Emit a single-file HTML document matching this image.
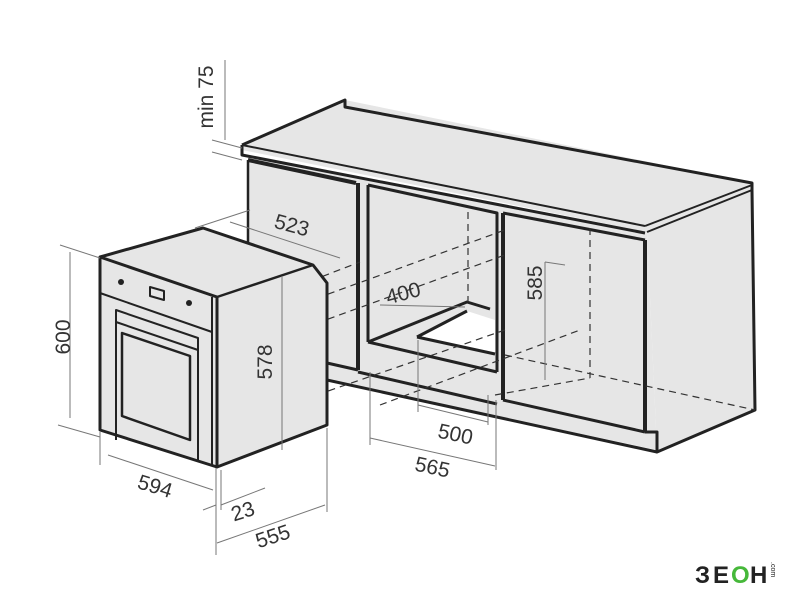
<!DOCTYPE html>
<html><head><meta charset="utf-8"><style>html,body{margin:0;padding:0;background:#fff}svg{display:block}</style></head>
<body>
<svg width="800" height="600" viewBox="0 0 800 600" xmlns="http://www.w3.org/2000/svg" font-family="Liberation Sans, sans-serif">
<g fill="#e6e6e6" stroke="none">
  <polygon points="242,145 345,100 752,183 752,190 647,232 242,150"/>
  <polygon points="248,155 647,232 657,450 327,380 327,290 248,250"/>
  <polygon points="647,232 752,190 755,410 657,450"/>
</g>
<polygon points="417,337 467,311 495,320 495,354" fill="#fff"/>
<g fill="none" stroke="#222" stroke-width="3" stroke-linejoin="round">
  <polyline points="242,145 345,100 345,107 752,183 752,190"/>
  <polyline points="242,145 242,155 645,233"/>
  <line x1="242" y1="145" x2="645" y2="226" stroke-width="2"/>
  <polyline points="645,226 752,185" stroke-width="2"/>
  <line x1="248" y1="160" x2="356" y2="183" stroke-width="4"/>
  <line x1="248" y1="160" x2="248" y2="248" stroke-width="2.5"/>
  <line x1="358" y1="183" x2="358" y2="370" stroke-width="4"/>
  <polyline points="368,185 497,213 497,372"/>
  <line x1="368" y1="185" x2="368" y2="342"/>
  <line x1="368" y1="342" x2="497" y2="372"/>
  <polyline points="368,342 467,302 490,309"/>
  <polyline points="417,337 467,311"/>
  <line x1="417" y1="337" x2="495" y2="354"/>
  <polyline points="503,213 645,240"/>
  <line x1="503" y1="213" x2="503" y2="400" stroke-width="4"/>
  <line x1="645" y1="240" x2="645" y2="432" stroke-width="4"/>
  <line x1="503" y1="400" x2="645" y2="432"/>
  <polyline points="752,190 755,410 657,452 657,432 645,432"/>
  <line x1="647" y1="232" x2="752" y2="190" stroke-width="2"/>
  <line x1="327" y1="363" x2="358" y2="370"/>
  <line x1="358" y1="372" x2="497" y2="404"/>
  <line x1="327" y1="380" x2="657" y2="452"/>
  <line x1="327" y1="363" x2="327" y2="380" stroke-width="2"/>
</g>
<g stroke="#333" stroke-width="1.2" stroke-dasharray="7,5" fill="none">
  <line x1="215" y1="360" x2="505" y2="255"/>
  <line x1="215" y1="335" x2="505" y2="230"/>
  <line x1="215" y1="430" x2="505" y2="330"/>
  <line x1="300" y1="285" x2="360" y2="262"/>
  <line x1="468" y1="212" x2="468" y2="302"/>
  <line x1="590" y1="228" x2="590" y2="378"/>
  <line x1="380" y1="405" x2="580" y2="330"/>
  <line x1="505" y1="355" x2="755" y2="410"/>
  <line x1="495" y1="395" x2="590" y2="378"/>
</g>
<g stroke="#222" stroke-width="3" stroke-linejoin="round">
  <polygon points="100,257 203,228 313,265 327,283 327,425 217,467 100,430" fill="#e6e6e6"/>
  <polyline points="100,257 217,297 217,467" fill="none"/>
  <polyline points="217,297 313,265" fill="none" stroke-width="2.5"/>
  <line x1="212" y1="297" x2="212" y2="466" stroke-width="2"/>
  <line x1="100" y1="293" x2="212" y2="332" stroke-width="2"/>
  <polygon points="116,310 198,338 198,350 116,322" fill="none" stroke-width="2"/>
  <polygon points="122,333 190,356 190,440 122,416" fill="none" stroke-width="2.5"/>
  <line x1="116" y1="322" x2="116" y2="440" stroke-width="2"/>
  <line x1="198" y1="350" x2="198" y2="462" stroke-width="2"/>
  <circle cx="121" cy="282" r="3" fill="#222" stroke="none"/>
  <circle cx="189" cy="303" r="3" fill="#222" stroke="none"/>
  <polygon points="150,287 164,291 164,300 150,296" fill="none" stroke-width="2"/>
</g>
<g stroke="#777" stroke-width="1" fill="none">
  <line x1="70" y1="252" x2="70" y2="418"/>
  <line x1="60" y1="245" x2="100" y2="258"/>
  <line x1="58" y1="425" x2="100" y2="437"/>
  <line x1="100" y1="432" x2="100" y2="465"/>
  <line x1="108" y1="455" x2="213" y2="490"/>
  <line x1="216" y1="468" x2="216" y2="555"/>
  <line x1="221" y1="470" x2="221" y2="510"/>
  <line x1="221" y1="505" x2="265" y2="488"/>
  <line x1="203" y1="510" x2="216" y2="505"/>
  <line x1="327" y1="428" x2="327" y2="512"/>
  <line x1="217" y1="543" x2="325" y2="505"/>
  <line x1="282" y1="276" x2="282" y2="450"/>
  <line x1="225" y1="60" x2="225" y2="140"/>
  <line x1="212" y1="140" x2="242" y2="148"/>
  <line x1="212" y1="152" x2="242" y2="160"/>
  <line x1="195" y1="228" x2="250" y2="210"/>
  <line x1="230" y1="222" x2="340" y2="258"/>
  <line x1="380" y1="305" x2="465" y2="307"/>
  <line x1="545" y1="262" x2="545" y2="380"/>
  <line x1="545" y1="262" x2="565" y2="265"/>
  <line x1="370" y1="372" x2="370" y2="445"/>
  <line x1="370" y1="438" x2="495" y2="466"/>
  <line x1="496" y1="400" x2="496" y2="470"/>
  <line x1="418" y1="340" x2="418" y2="412"/>
  <line x1="418" y1="405" x2="488" y2="422"/>
  <line x1="488" y1="395" x2="488" y2="425"/>
</g>
<g fill="#333" font-size="21">
  <text transform="translate(70,337) rotate(-90)" text-anchor="middle">600</text>
  <text transform="translate(153,493) rotate(17)" text-anchor="middle">594</text>
  <text transform="translate(245,518) rotate(-18)" text-anchor="middle">23</text>
  <text transform="translate(275,543) rotate(-18)" text-anchor="middle">555</text>
  <text transform="translate(272,362) rotate(-90)" text-anchor="middle">578</text>
  <text transform="translate(213,97) rotate(-90)" text-anchor="middle">min 75</text>
  <text transform="translate(290,232) rotate(15)" text-anchor="middle">523</text>
  <text transform="translate(405,300) rotate(-15)" text-anchor="middle">400</text>
  <text transform="translate(542,283) rotate(-90)" text-anchor="middle">585</text>
  <text transform="translate(454,441) rotate(12)" text-anchor="middle">500</text>
  <text transform="translate(431,474) rotate(12)" text-anchor="middle">565</text>
</g>
<g font-size="24" font-weight="bold">
<text x="695" y="583" fill="#222">З</text>
<text x="713" y="583" fill="#222">Е</text>
<text x="731" y="583" fill="#46b83a">О</text>
<text x="750" y="583" fill="#222">Н</text>
</g>
<text transform="translate(771,562) rotate(90)" font-size="7" fill="#222">.com</text>
</svg>
</body></html>
